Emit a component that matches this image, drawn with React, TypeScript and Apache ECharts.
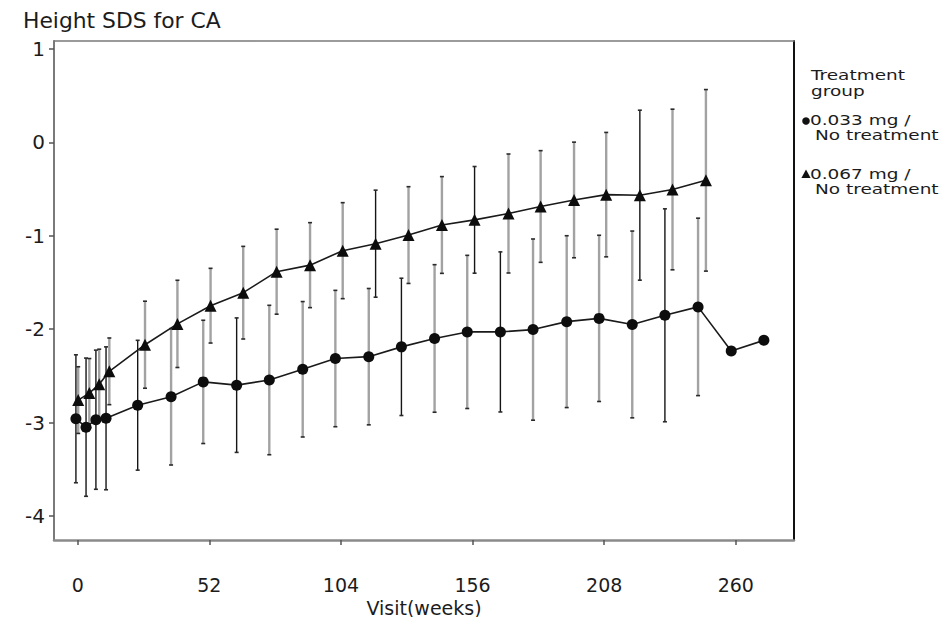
import React, { useEffect, useRef } from "react";
import * as echarts from "echarts";

// Axis ticks
const xTicks = [0, 52, 104, 156, 208, 260];
const yTicks = [-4, -3, -2, -1, 0, 1];

// Group 0.033 mg / No treatment (circles)
const circleWeeks = [-0.7, 3.3, 7.2, 11.2, 23.7, 36.9, 49.6, 62.8, 75.7, 88.9, 101.8, 115.0, 127.9, 141.0, 153.9, 167.0, 179.9, 193.2, 206.0, 219.1, 232.0, 245.1, 258.2, 271.1];
const circleMean = [-2.96, -3.05, -2.97, -2.955, -2.815, -2.725, -2.565, -2.6, -2.545, -2.43, -2.315, -2.295, -2.19, -2.1, -2.03, -2.03, -2.005, -1.92, -1.885, -1.95, -1.852, -1.762, -2.234, -2.12];
const circleSD = [0.685, 0.74, 0.745, 0.765, 0.695, 0.73, 0.66, 0.72, 0.8, 0.725, 0.73, 0.73, 0.735, 0.79, 0.82, 0.857, 0.97, 0.92, 0.89, 1.0, 1.14, 0.95, null, null];

// Group 0.067 mg / No treatment (triangles)
const triWeeks = [0.2, 4.6, 8.5, 12.5, 26.6, 39.4, 52.5, 65.4, 78.6, 91.8, 104.7, 117.7, 130.7, 143.9, 156.8, 170.2, 182.9, 196.1, 208.8, 222.1, 235.0, 248.2];
const triMean = [-2.76, -2.685, -2.59, -2.452, -2.167, -1.944, -1.749, -1.61, -1.385, -1.315, -1.16, -1.085, -0.993, -0.885, -0.83, -0.762, -0.687, -0.617, -0.56, -0.566, -0.505, -0.407];
const triSD = [0.357, 0.37, 0.375, 0.357, 0.466, 0.467, 0.4, 0.496, 0.455, 0.455, 0.514, 0.573, 0.518, 0.518, 0.571, 0.637, 0.598, 0.619, 0.666, 0.91, 0.86, 0.972];

// Rendering tone of each error bar (k = dark thin, g = grey)
const circleBarTone = ["k", "k", "k", "k", "k", "g", "g", "k", "g", "g", "g", "g", "k", "g", "g", "k", "g", "g", "g", "g", "k", "g"];
const triBarTone = ["g", "g", "g", "g", "g", "g", "g", "g", "g", "g", "g", "k", "g", "g", "k", "g", "g", "g", "g", "k", "g", "g"];

const FONT = "DejaVu Sans";

function barData(weeks: number[], mean: number[], sd: (number | null)[], tone: string[]) {
  const out: number[][] = [];
  weeks.forEach((w, i) => {
    const s = sd[i];
    if (s == null) return;
    out.push([w, mean[i] - s, mean[i] + s, tone[i] === "k" ? 1 : 0]);
  });
  return out;
}

function renderBar(_params: any, api: any) {
  const x = api.value(0);
  const lo = api.coord([x, api.value(1)]);
  const hi = api.coord([x, api.value(2)]);
  const dark = api.value(3) === 1;
  const cap = { stroke: "#2a2a2a", lineWidth: 1.6 };
  return {
    type: "group",
    children: [
      {
        type: "line",
        shape: { x1: lo[0], y1: lo[1], x2: hi[0], y2: hi[1] },
        style: { stroke: dark ? "#151515" : "#a2a2a2", lineWidth: dark ? 1.4 : 2.4 },
      },
      { type: "line", shape: { x1: lo[0] - 2, y1: lo[1], x2: lo[0] + 2, y2: lo[1] }, style: cap },
      { type: "line", shape: { x1: hi[0] - 2, y1: hi[1], x2: hi[0] + 2, y2: hi[1] }, style: cap },
    ],
  };
}

export default function App() {
  const ref = useRef<HTMLDivElement>(null);
  useEffect(() => {
    const chart = echarts.init(ref.current!, null, { renderer: "svg" });
    const xMin = -9.36;
    const xMax = 283.0;
    const yMin = -4.258;
    const yMax = 1.085;
    const textColor = "#1c1c1c";
    const legendText = (x: number, y: number, text: string) => ({
      type: "text",
      x,
      y,
      scaleX: 1.32,
      style: { text, fontFamily: FONT, fontSize: 14, fill: textColor, verticalAlign: "middle", align: "left" },
    });
    const option: any = {
      animation: false,
      backgroundColor: "#ffffff",
      grid: { left: 54, right: 148, top: 41, bottom: 77, show: false, containLabel: false, outerBoundsMode: "none" },
      xAxis: [
        {
          type: "value",
          min: xMin,
          max: xMax,
          name: "Visit(weeks)",
          nameLocation: "middle",
          nameGap: 58,
          nameMoveOverlap: false,
          nameTextStyle: { fontFamily: FONT, fontSize: 19, color: textColor },
          axisLine: { show: true, onZero: false, lineStyle: { color: "#8a8a8a", width: 2.5 } },
          axisTick: { show: true, customValues: xTicks, length: 5, lineStyle: { color: "#555", width: 1.5 } },
          axisLabel: { customValues: xTicks, margin: 35, fontFamily: FONT, fontSize: 19, color: textColor },
          splitLine: { show: false },
        },
        {
          type: "value",
          position: "top",
          min: xMin,
          max: xMax,
          axisLine: { show: true, onZero: false, lineStyle: { color: "#7a7a7a", width: 1.5 } },
          axisTick: { show: false },
          axisLabel: { show: false },
          splitLine: { show: false },
        },
      ],
      yAxis: [
        {
          type: "value",
          min: yMin,
          max: yMax,
          axisLine: { show: true, onZero: false, lineStyle: { color: "#7a7a7a", width: 2 } },
          axisTick: { show: true, customValues: yTicks, length: 5, lineStyle: { color: "#555", width: 1.5 } },
          axisLabel: { customValues: yTicks, margin: 9, fontFamily: FONT, fontSize: 20, color: textColor },
          splitLine: { show: false },
        },
        {
          type: "value",
          position: "right",
          min: yMin,
          max: yMax,
          axisLine: { show: true, onZero: false, lineStyle: { color: "#111", width: 2 } },
          axisTick: { show: false },
          axisLabel: { show: false },
          splitLine: { show: false },
        },
      ],
      graphic: [
        {
          type: "text",
          x: 23,
          y: 21,
          scaleX: 1.04,
          style: { text: "Height SDS for CA", fontFamily: FONT, fontSize: 21, fill: textColor, verticalAlign: "middle", align: "left" },
        },
        legendText(811, 75, "Treatment"),
        legendText(811, 91, "group"),
        { type: "circle", shape: { cx: 806, cy: 121, r: 3.8 }, style: { fill: "#111" } },
        legendText(810, 120, "0.033 mg /"),
        legendText(815, 135, "No treatment"),
        { type: "polygon", shape: { points: [[806, 169.5], [810.6, 178], [801.4, 178]] }, style: { fill: "#111" } },
        legendText(810, 174, "0.067 mg /"),
        legendText(815, 189, "No treatment"),
      ],
      series: [
        {
          type: "custom",
          name: "bars1",
          renderItem: renderBar,
          data: barData(circleWeeks, circleMean, circleSD, circleBarTone),
          encode: { x: 0, y: [1, 2] },
          z: 2,
          silent: true,
        },
        {
          type: "custom",
          name: "bars2",
          renderItem: renderBar,
          data: barData(triWeeks, triMean, triSD, triBarTone),
          encode: { x: 0, y: [1, 2] },
          z: 2,
          silent: true,
        },
        {
          type: "line",
          name: "0.033 mg / No treatment",
          data: circleWeeks.map((w, i) => [w, circleMean[i]]),
          symbol: "circle",
          symbolSize: 11,
          lineStyle: { color: "#1a1a1a", width: 1.6 },
          itemStyle: { color: "#0d0d0d" },
          z: 5,
        },
        {
          type: "line",
          name: "0.067 mg / No treatment",
          data: triWeeks.map((w, i) => [w, triMean[i]]),
          symbol: "triangle",
          symbolSize: 12,
          lineStyle: { color: "#1a1a1a", width: 1.6 },
          itemStyle: { color: "#0d0d0d" },
          z: 5,
        },
      ],
    };
    chart.setOption(option);
    return () => chart.dispose();
  }, []);
  return (
    <div
      ref={ref}
      style={{ position: "fixed", left: 0, top: 0, width: 942, height: 617, background: "#fff" }}
    />
  );
}
